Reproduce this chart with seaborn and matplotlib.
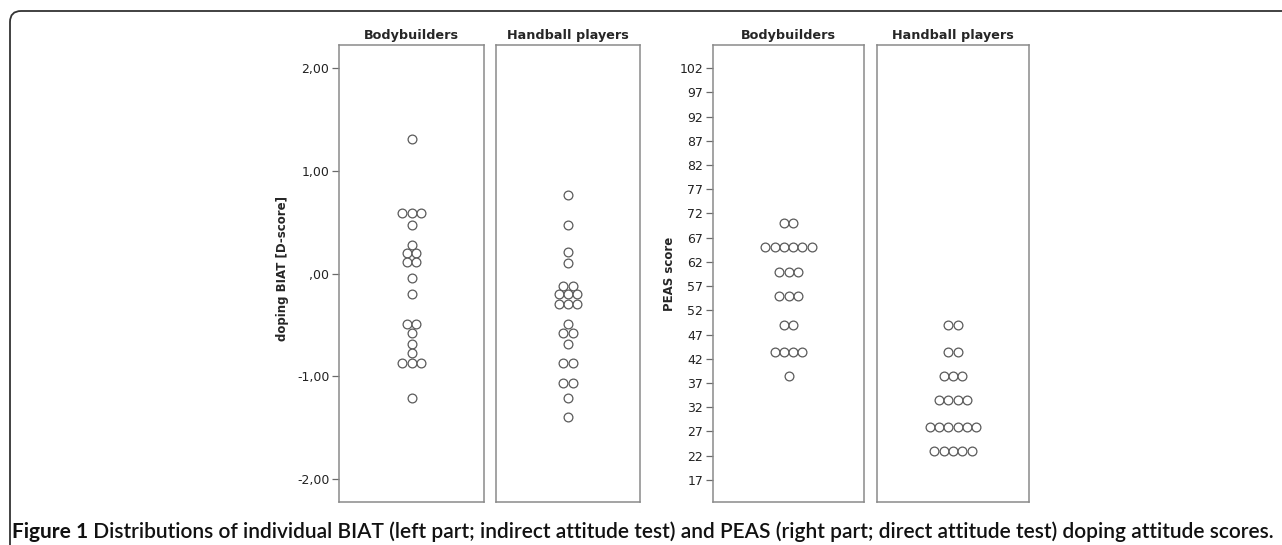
import numpy as np
import pandas as pd
import matplotlib
matplotlib.use("Agg")
import matplotlib.pyplot as plt
import seaborn as sns
from matplotlib.patches import FancyBboxPatch
from matplotlib.transforms import IdentityTransform

# data
groups = ["Bodybuilders", "Handball players"]

biat_bodybuilders = [1.31, 0.59, 0.59, 0.59, 0.47, 0.28, 0.20, 0.20, 0.11, 0.11, -0.04,
                     -0.20, -0.49, -0.49, -0.58, -0.69, -0.77, -0.87, -0.87, -0.87, -1.21]
biat_handball = [0.76, 0.47, 0.21, 0.10, -0.12, -0.12, -0.20, -0.20, -0.20, -0.30, -0.30,
                 -0.30, -0.49, -0.58, -0.58, -0.69, -0.87, -0.87, -1.07, -1.07, -1.21, -1.40]

peas_bodybuilders = [70, 70, 65, 65, 65, 65, 65, 65, 60, 60, 60, 55, 55, 55, 49, 49,
                     43.5, 43.5, 43.5, 43.5, 38.5]
peas_handball = [49, 49, 43.5, 43.5, 38.5, 38.5, 38.5, 33.5, 33.5, 33.5, 33.5,
                 28, 28, 28, 28, 28, 28, 23, 23, 23, 23, 23]

biat_ticks = [2, 1, 0, -1, -2]
biat_ticklabels = ["2,00", "1,00", ",00", "-1,00", "-2,00"]
peas_ticks = [17, 22, 27, 32, 37, 42, 47, 52, 57, 62, 67, 72, 77, 82, 87, 92, 97, 102]

caption_bold = "Figure 1"
caption_rest = (" Distributions of individual BIAT (left part; indirect attitude test) and PEAS "
                "(right part; direct attitude test) doping attitude scores.")

sns.set_style("white")
plt.rcParams['font.family'] = ['DejaVu Sans']

W, H = 1282, 545
fig = plt.figure(figsize=(W / 100, H / 100), dpi=100)

rows = []
for test, grp, vals in [("BIAT", groups[0], biat_bodybuilders), ("BIAT", groups[1], biat_handball),
                        ("PEAS", groups[0], peas_bodybuilders), ("PEAS", groups[1], peas_handball)]:
    for v in vals:
        rows.append({"test": test, "group": grp, "score": v})
df = pd.DataFrame(rows)

# symmetric stacking of equal values (dot plot style)
df["rank"] = df.groupby(["test", "group", "score"]).cumcount()
df["n"] = df.groupby(["test", "group", "score"])["score"].transform("size")
df["slot"] = df["rank"] - (df["n"] - 1) / 2

# panel boxes in pixels: (left, right)
panels = [("BIAT", groups[0], 339, 484), ("BIAT", groups[1], 496, 640),
          ("PEAS", groups[0], 713, 864), ("PEAS", groups[1], 877, 1029)]
top_px, bot_px = 45, 502
dot_px = 9.3

axes = []
for test, grp, x0, x1 in panels:
    ax = fig.add_axes([x0 / W, (H - bot_px) / H, (x1 - x0) / W, (bot_px - top_px) / H])
    sub = df[(df.test == test) & (df.group == grp)].copy()
    sub["x"] = sub["slot"] * dot_px / (x1 - x0)
    sns.scatterplot(data=sub, x="x", y="score", ax=ax, s=40, marker="o",
                    facecolor="white", edgecolor="#5a5a5a", linewidth=0.9, legend=False)
    ax.set_xlim(-0.5, 0.5)
    ax.set_xticks([])
    ax.set_xlabel("")
    ax.set_ylabel("")
    ax.set_title(grp, fontsize=9.2, fontweight="bold", pad=4)
    for sp in ax.spines.values():
        sp.set_visible(True)
        sp.set_color("#8a8a8a")
        sp.set_linewidth(1.1)
    if test == "BIAT":
        ax.set_ylim(-2.224, 2.224)
    else:
        ax.set_ylim(12.45, 106.76)
    axes.append(ax)

ax = axes[0]
ax.set_yticks(biat_ticks)
ax.set_yticklabels(biat_ticklabels)
ax.set_ylabel("doping BIAT [D-score]", fontsize=8.5, fontweight="bold")
ax.yaxis.set_label_coords((289 - 339) / 145, 0.51)

ax = axes[2]
ax.set_yticks(peas_ticks)
ax.set_yticklabels([str(t) for t in peas_ticks])
ax.set_ylabel("PEAS score", fontsize=8.5, fontweight="bold")
ax.yaxis.set_label_coords((676 - 713) / 151, 0.5)

for ax in (axes[0], axes[2]):
    ax.tick_params(axis="y", left=True, length=5, width=0.9, color="#6a6a6a",
                   labelsize=9, pad=2, labelcolor="#222222")
for ax in (axes[1], axes[3]):
    ax.set_yticks([])

# caption: size chosen so the line spans x = 12 .. 1274 px
cap_font = ["Lato", "DejaVu Sans"]
cap_y = (H - 532) / H
fs = 14.0
for _ in range(3):
    for t in list(fig.texts):
        t.remove()
    t1 = fig.text(12 / W, cap_y, caption_bold, fontsize=fs, fontweight="bold",
                  family=cap_font, va="center", ha="left", color="#111111")
    fig.canvas.draw()
    bb = t1.get_window_extent()
    t2 = fig.text(bb.x1 / W, cap_y, caption_rest, fontsize=fs, fontweight="semibold",
                  family=cap_font, va="center", ha="left", color="#111111")
    fig.canvas.draw()
    right = t2.get_window_extent().x1
    fs = fs * (1274 - 12) / (right - 12)

# rounded frame around the figure (cropped on right and bottom)
frame = FancyBboxPatch((10, -30), W + 40, H - 11 + 30, boxstyle="round,pad=0,rounding_size=11",
                       transform=IdentityTransform(), fill=False, edgecolor="#333333",
                       linewidth=1.3, clip_on=False)
fig.add_artist(frame)

fig.savefig("out.png", dpi=100)
